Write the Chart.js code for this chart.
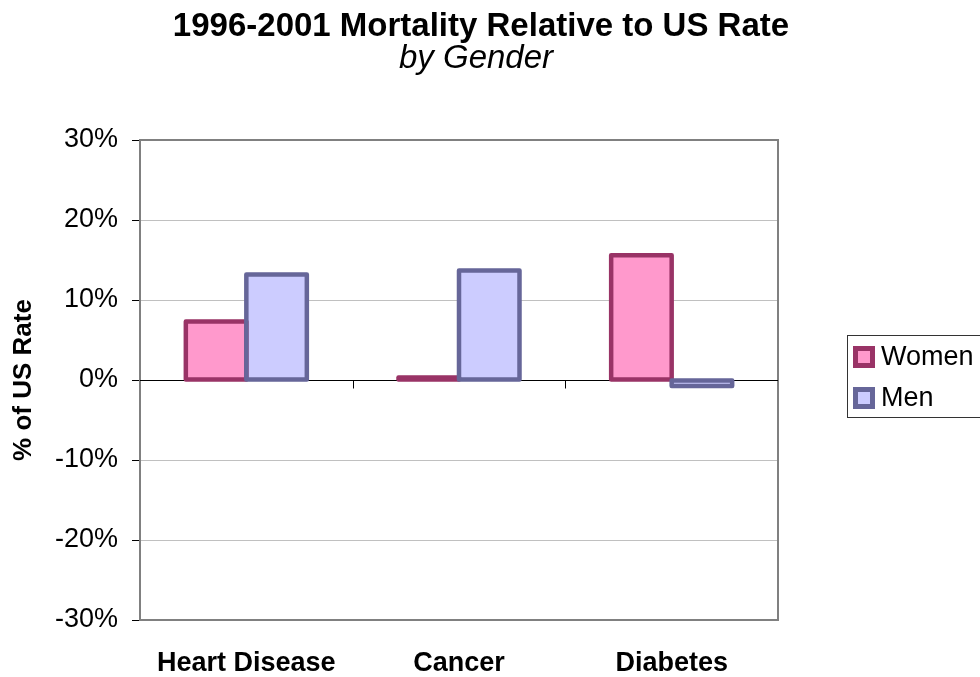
<!DOCTYPE html>
<html>
<head>
<meta charset="utf-8">
<script src="https://cdn.jsdelivr.net/npm/chart.js@4.4.1/dist/chart.umd.min.js"></script>
<style>
  html, body { margin: 0; padding: 0; background: #ffffff; }
  #wrap { width: 980px; height: 677px; position: relative; }
</style>
</head>
<body>
<div id="wrap"><canvas id="chart" width="980" height="677"></canvas></div>
<script>
// Mortality relative to the US rate, 1996-2001 (percent)
const categories = ['Heart Disease', 'Cancer', 'Diabetes'];
const women = [7.3, 0.3, 15.6];
const men = [13.2, 13.7, -0.75];
const yTicks = [-30, -20, -10, 0, 10, 20, 30];
const titleText = '1996-2001 Mortality Relative to US Rate';
const subtitleText = 'by Gender';

const FONT = "'Liberation Sans', Arial, Helvetica, sans-serif";

// Heading block centred over the whole chart
const heading = {
  id: 'heading',
  afterDraw(chart) {
    const ctx = chart.ctx;
    ctx.save();
    ctx.fillStyle = '#000000';
    ctx.textAlign = 'center';
    ctx.textBaseline = 'alphabetic';
    ctx.font = 'bold 33px ' + FONT;
    ctx.fillText(titleText, 481, 36);
    ctx.font = 'italic 33px ' + FONT;
    ctx.fillText(subtitleText, 476, 68);
    ctx.restore();
  }
};

// Outlines each bar with a stroke centred on its edges
const barOutline = {
  id: 'barOutline',
  afterDatasetsDraw(chart) {
    const ctx = chart.ctx;
    ctx.save();
    chart.data.datasets.forEach((ds, di) => {
      const meta = chart.getDatasetMeta(di);
      meta.data.forEach(bar => {
        const p = bar.getProps(['x', 'y', 'base', 'width'], true);
        const left = p.x - p.width / 2;
        const top = Math.min(p.y, p.base);
        const h = Math.abs(p.base - p.y);
        ctx.lineWidth = 4.5;
        ctx.lineJoin = 'round';
        ctx.strokeStyle = ds.outlineColor;
        ctx.strokeRect(left, top, p.width, h);
      });
    });
    ctx.restore();
  }
};

// Plot frame, zero line and category tick marks
const frame = {
  id: 'frame',
  beforeDatasetsDraw(chart) {
    const { ctx, chartArea: a, scales } = chart;
    const y0 = Math.round(scales.y.getPixelForValue(0)) + 0.5;
    ctx.save();
    ctx.strokeStyle = '#808080';
    ctx.lineWidth = 2;
    ctx.strokeRect(a.left, a.top, a.right - a.left, a.bottom - a.top);
    ctx.strokeStyle = '#000000';
    ctx.lineWidth = 1;
    ctx.beginPath();
    ctx.moveTo(a.left, y0);
    ctx.lineTo(a.right, y0);
    const n = categories.length;
    for (let i = 1; i < n; i++) {
      const x = Math.round((scales.x.getPixelForValue(i - 1) + scales.x.getPixelForValue(i)) / 2) + 0.5;
      ctx.moveTo(x, y0);
      ctx.lineTo(x, y0 + 8);
    }
    ctx.stroke();
    ctx.restore();
  }
};

// Boxed legend on the right
const boxLegend = {
  id: 'boxLegend',
  afterDraw(chart) {
    const ctx = chart.ctx;
    ctx.save();
    ctx.strokeStyle = '#333333';
    ctx.lineWidth = 1;
    ctx.strokeRect(847.5, 335.5, 160, 82);
    ctx.font = '27px ' + FONT;
    ctx.textBaseline = 'middle';
    ctx.textAlign = 'left';
    chart.data.datasets.forEach((ds, i) => {
      const cy = 357 + i * 41;
      ctx.fillStyle = ds.outlineColor;
      ctx.fillRect(853, cy - 11, 22, 22);
      ctx.fillStyle = ds.backgroundColor;
      ctx.fillRect(858, cy - 6, 12, 12);
      ctx.fillStyle = '#000000';
      ctx.fillText(ds.label, 881, cy + 1);
    });
    ctx.restore();
  }
};

new Chart(document.getElementById('chart'), {
  type: 'bar',
  data: {
    labels: categories,
    datasets: [
      { label: 'Women', data: women, backgroundColor: '#FF99CC', outlineColor: '#993366', borderWidth: 0 },
      { label: 'Men', data: men, backgroundColor: '#CCCCFF', outlineColor: '#666699', borderWidth: 0 }
    ]
  },
  options: {
    responsive: false,
    animation: false,
    devicePixelRatio: 1,
    layout: { padding: { left: 0, right: 202, top: 140, bottom: 0 } },
    datasets: { bar: { categoryPercentage: 0.569, barPercentage: 1.0 } },
    plugins: {
      legend: { display: false },
      tooltip: { enabled: false },
      title: { display: false },
      subtitle: { display: false }
    },
    scales: {
      x: {
        grid: { display: false },
        border: { display: false },
        ticks: {
          color: '#000000',
          font: { family: FONT, size: 27, weight: 'bold' },
          padding: 19,
          maxRotation: 0
        },
        afterFit(scale) { scale.height = 57; }
      },
      y: {
        min: -30,
        max: 30,
        afterBuildTicks(scale) { scale.ticks = yTicks.map(v => ({ value: v })); },
        grid: {
          color: ctx => ctx.tick && ctx.tick.value === 0 ? '#000000' : '#C0C0C0',
          tickColor: '#000000',
          tickLength: 8,
          lineWidth: 1
        },
        border: { display: false },
        ticks: {
          color: '#000000',
          font: { family: FONT, size: 27 },
          padding: 14,
          callback: v => v + '%'
        },
        title: {
          display: true,
          text: '% of US Rate',
          color: '#000000',
          font: { family: FONT, size: 26, weight: 'bold' },
          padding: { top: 8, bottom: 0 }
        },
        afterFit(scale) { scale.width = 140; }
      }
    }
  },
  plugins: [frame, barOutline, boxLegend, heading]
});
</script>
</body>
</html>
